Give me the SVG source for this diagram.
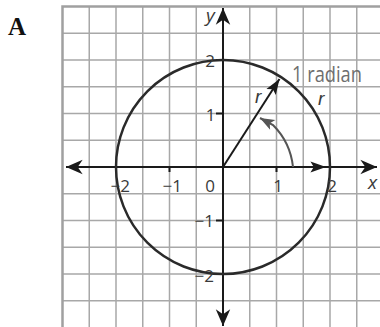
<svg xmlns="http://www.w3.org/2000/svg" width="380" height="327" viewBox="0 0 380 327">
<style>
.grid{stroke:#a8a8a8;stroke-width:1.5;fill:none}
.edge{stroke:#a0a0a0;stroke-width:2.5;fill:none}
.axis{stroke:#1a1a1a;stroke-width:2;fill:none}
.circ{stroke:#2a2a2a;stroke-width:2.5;fill:none}
.num{font-family:"Open Sans","Noto Sans",sans-serif;font-size:17px;fill:#3a3a3a}
.var{font-family:"Open Sans","Noto Sans",sans-serif;font-style:italic;font-size:19px;fill:#3a3a3a}
.rr{font-family:"Liberation Sans",sans-serif;font-style:italic;font-size:19px;fill:#3a3a3a}
.lbl{font-family:"Open Sans","Noto Sans",sans-serif;font-size:21px;fill:#6e6e6e}
</style>
<defs>
<marker id="ah" markerUnits="userSpaceOnUse" markerWidth="20" markerHeight="20" refX="0" refY="0" viewBox="-16 -8 18 16" orient="auto">
<path d="M0,0 L-15,-6.5 L-10.5,0 L-15,6.5 Z" fill="#1a1a1a"/>
</marker>
<marker id="ahs" markerUnits="userSpaceOnUse" markerWidth="20" markerHeight="20" refX="0" refY="0" viewBox="-16 -8 18 16" orient="auto">
<path d="M0,0 L-14,-5 L-11,0 L-14,5 Z" fill="#1a1a1a"/>
</marker>
<marker id="ahg" markerUnits="userSpaceOnUse" markerWidth="20" markerHeight="20" refX="0" refY="0" viewBox="-16 -8 18 16" orient="auto">
<path d="M0,0 L-13,-5 L-10,0 L-13,5 Z" fill="#555"/>
</marker>
</defs>
<text x="8" y="35" font-family="Liberation Serif,serif" font-weight="bold" font-size="25" fill="#111">A</text>
<g id="grid">
<path class="grid" d="M89.25,6.5V327M116,6.5V327M142.75,6.5V327M169.5,6.5V327M196.25,6.5V327M249.75,6.5V327M276.5,6.5V327M303.25,6.5V327M330,6.5V327M356.75,6.5V327"/>
<path class="grid" d="M62.5,33.25H380M62.5,60H380M62.5,86.75H380M62.5,113.5H380M62.5,140.25H380M62.5,193.75H380M62.5,220.5H380M62.5,247.25H380M62.5,274H380M62.5,300.75H380"/>
<path class="edge" d="M62.5,327V6.5H380"/>
</g>
<g id="connectors">
<line class="axis" x1="222" y1="167" x2="66" y2="167" marker-end="url(#ah)"/>
<line class="axis" x1="224" y1="167" x2="377" y2="167" marker-end="url(#ah)"/>
<line class="axis" x1="223" y1="168" x2="223" y2="8" marker-end="url(#ah)"/>
<line class="axis" x1="223" y1="166" x2="223" y2="326" marker-end="url(#ah)"/>
<line class="axis" x1="300" y1="167" x2="326" y2="167" marker-end="url(#ahs)"/>
<path class="axis" d="M216,113.5H223M216,60H223M216,220.5H223M216,274H223M169.5,167V172M276.5,167V172"/>
<line class="axis" x1="223" y1="167" x2="279.5" y2="79" marker-end="url(#ahs)"/>
<path d="M293,167 A70,70 0 0 0 273,125 L260,118" fill="none" stroke="#555" stroke-width="2" marker-end="url(#ahg)"/>
</g>
<g id="circle">
<circle class="circ" cx="223" cy="167" r="107"/>
</g>
<g id="labels">
<text class="var" x="206" y="22">y</text>
<text class="var" x="368" y="189">x</text>
<text class="num" x="210" y="67" text-anchor="middle">2</text>
<text class="num" x="210.5" y="121" text-anchor="middle">1</text>
<text class="num" x="214" y="227" text-anchor="end">−1</text>
<text class="num" x="214" y="282" text-anchor="end">−2</text>
<text class="num" x="130" y="192" text-anchor="end">−2</text>
<text class="num" x="182" y="192" text-anchor="end">−1</text>
<text class="num" x="210" y="192" text-anchor="middle">0</text>
<text class="num" x="278" y="192" text-anchor="middle">1</text>
<text class="num" x="332" y="192" text-anchor="middle">2</text>
<text class="lbl" x="292" y="82" textLength="70" lengthAdjust="spacingAndGlyphs">1 radian</text>
<text class="rr" x="255" y="103">r</text>
<text class="rr" x="318" y="105">r</text>
</g>
</svg>
